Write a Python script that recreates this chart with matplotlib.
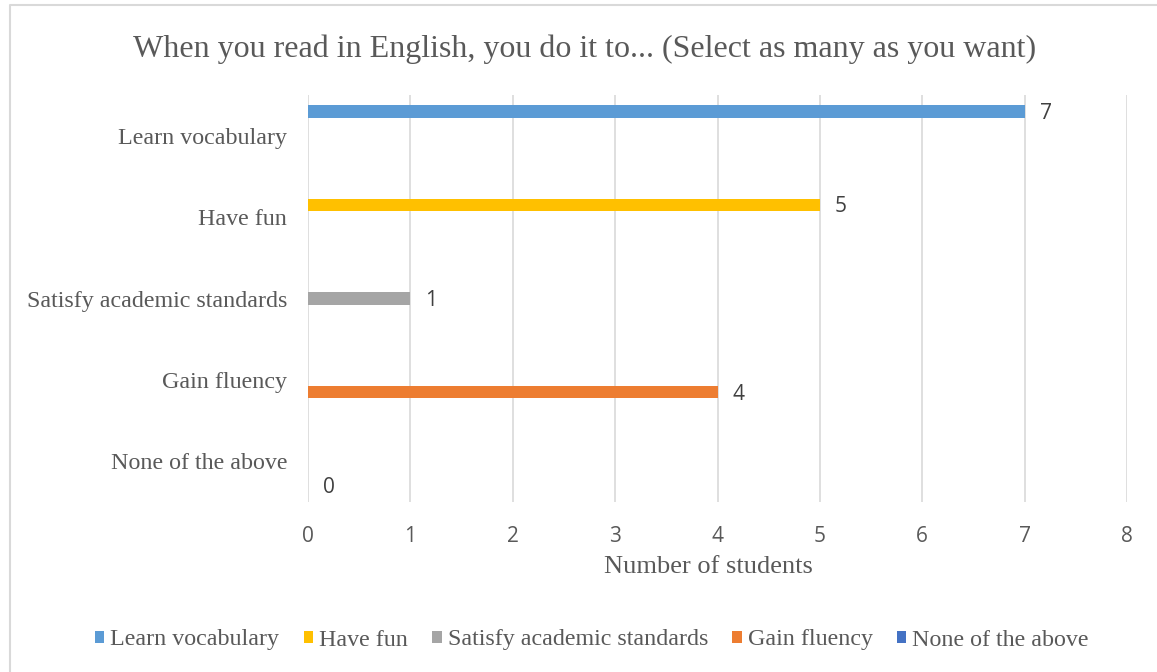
import matplotlib.pyplot as plt
from matplotlib.patches import Patch
from matplotlib.lines import Line2D

# Survey answers (one series per answer, Excel-style clustered bars)
categories = ['Learn vocabulary', 'Have fun', 'Satisfy academic standards',
              'Gain fluency', 'None of the above']
counts = [7, 5, 1, 4, 0]
colors = ['#5b9bd5', '#ffc000', '#a5a5a5', '#ed7d31', '#4472c4']
x_ticks = [0, 1, 2, 3, 4, 5, 6, 7, 8]

text_color = '#595959'
grid_color = '#d9d9d9'
serif = 'Liberation Serif'
sans = 'Open Sans'

W, H = 1157, 672
fig = plt.figure(figsize=(W / 100, H / 100), dpi=100, facecolor='white')
ax = fig.add_axes([308 / W, 1 - 502 / H, (1127 - 308) / W, (502 - 95) / H])

# each category holds 5 slots, only the matching series has a bar
slot = 0.149
n = len(categories)
for i, (cat, val, col) in enumerate(zip(categories, counts, colors)):
    y = i + (i - (n - 1) / 2) * slot
    ax.barh(y, val, height=slot * 1.05, color=col, label=cat, zorder=3)
    ax.annotate(str(val), xy=(val, y), xytext=(15, -2), textcoords='offset pixels',
                ha='left', va='center', fontsize=15, family=sans, color='#404040')

ax.set_xlim(0, 8)
ax.set_ylim(n - 0.5, -0.5)
ax.set_xticks(x_ticks)
ax.set_xticklabels([str(t) for t in x_ticks], family=sans, fontsize=15, color=text_color)
ax.set_yticks(range(n))
ax.set_yticklabels(categories, family=serif, fontsize=17.3, color=text_color)
ax.tick_params(axis='x', length=0, pad=17)
ax.tick_params(axis='y', length=0, pad=15)
ax.grid(axis='x', color=grid_color, linewidth=1.2, zorder=0)
ax.set_axisbelow(True)
for s in ax.spines.values():
    s.set_visible(False)

ax.set_xlabel('Number of students', family=serif, fontsize=19, color=text_color)
ax.xaxis.set_label_coords((708 - 308) / (1127 - 308), -(567 - 502) / (502 - 95))
ax.xaxis.label.set_va('center')

fig.text(0.5 * (135 + 1034) / W, 1 - 49 / H,
         'When you read in English, you do it to... (Select as many as you want)',
         ha='center', va='center', family=serif, fontsize=23, color=text_color)

handles = [Patch(facecolor=c, edgecolor='none') for c in colors]
fig.legend(handles, categories, loc='center', bbox_to_anchor=(592 / W, 1 - 640 / H),
           ncol=5, frameon=False, prop={'family': serif, 'size': 17.3},
           labelcolor=text_color, handlelength=0.38, handleheight=0.38,
           handletextpad=0.25, columnspacing=1.02, borderaxespad=0)

# chart frame (top and left edges visible)
fig.add_artist(Line2D([9.5 / W, 9.5 / W, 1], [0, 1 - 4.5 / H, 1 - 4.5 / H],
                      transform=fig.transFigure, color=grid_color, linewidth=1.5))

fig.savefig('out.png', dpi=100, facecolor='white')
